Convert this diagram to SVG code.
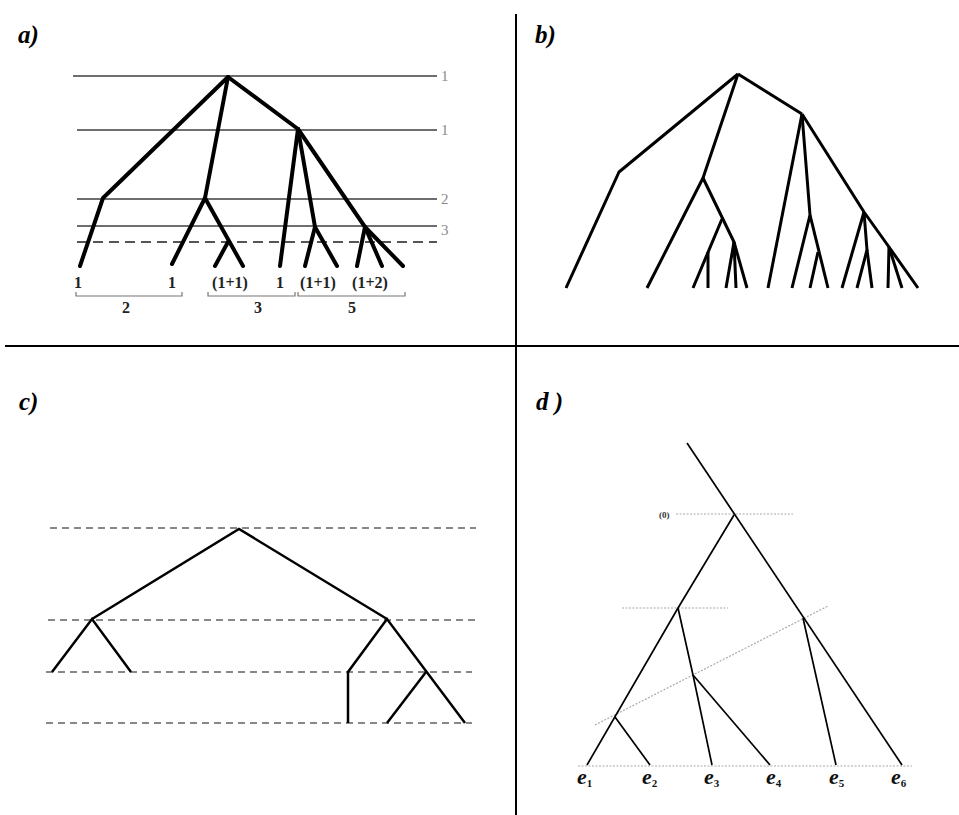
<svg xmlns="http://www.w3.org/2000/svg" width="959" height="815" viewBox="0 0 959 815">
<style>
.bg{fill:#fff}
.div{stroke:#000;stroke-width:2;fill:none}
.lbl{font-family:"Liberation Serif",serif;font-weight:bold;font-style:italic;font-size:25px;fill:#000}
.ta{stroke:#000;stroke-width:4;fill:none;stroke-linecap:round;stroke-linejoin:round}
.tb{stroke:#000;stroke-width:3;fill:none;stroke-linejoin:round}
.tc{stroke:#000;stroke-width:2.5;fill:none;stroke-linejoin:miter}
.td{stroke:#000;stroke-width:1.7;fill:none}
.ha{stroke:#6e6e6e;stroke-width:2;fill:none}
.hda{stroke:#555;stroke-width:2;fill:none;stroke-dasharray:10 6}
.glab{font-family:"Liberation Serif",serif;font-size:15px;fill:#8a8a8a}
.num{font-family:"Liberation Serif",serif;font-weight:bold;font-size:16px;fill:#222;text-anchor:middle}
.brk{stroke:#777;stroke-width:1.2;fill:none}
.hc{stroke:#888;stroke-width:2;fill:none;stroke-dasharray:7 5}
.dot{stroke:#aaa;stroke-width:1.2;fill:none;stroke-dasharray:2 1.5}
.e{font-family:"Liberation Serif",serif;font-weight:bold;font-style:italic;font-size:22px;fill:#111}
.sub{font-style:normal;font-size:11px}
.zero{font-family:"Liberation Serif",serif;font-weight:bold;font-size:9px;fill:#333}
</style>
<rect class="bg" x="0" y="0" width="959" height="815"/>
<g id="dividers">
<line class="div" x1="516" y1="14" x2="516" y2="815"/>
<line class="div" x1="5" y1="346" x2="959" y2="346"/>
</g>
<g id="panel-labels">
<text class="lbl" x="18" y="43">a)</text>
<text class="lbl" x="535" y="43">b)</text>
<text class="lbl" x="19" y="410">c)</text>
<text class="lbl" x="536" y="410">d )</text>
</g>
<g id="panel-a">
<g id="a-levels">
<line class="ha" x1="73" y1="76" x2="437" y2="76"/>
<line class="ha" x1="77" y1="130" x2="437" y2="130"/>
<line class="ha" x1="77" y1="199" x2="437" y2="199"/>
<line class="ha" x1="77" y1="226" x2="437" y2="226"/>
<line class="hda" x1="77" y1="242" x2="437" y2="242"/>
<text class="glab" x="441" y="81">1</text>
<text class="glab" x="441" y="135">1</text>
<text class="glab" x="441" y="204">2</text>
<text class="glab" x="441" y="235">3</text>
</g>
<g id="a-tree">
<polyline class="ta" points="228,77 103,198 80,266"/>
<polyline class="ta" points="228,77 205,198 172,264"/>
<polyline class="ta" points="205,198 243,266"/>
<polyline class="ta" points="228,242 215,266"/>
<polyline class="ta" points="228,77 298,129"/>
<polyline class="ta" points="298,129 280,266"/>
<polyline class="ta" points="298,129 315,227 305,266"/>
<polyline class="ta" points="315,227 337,266"/>
<polyline class="ta" points="298,129 365,227 403,266"/>
<polyline class="ta" points="365,227 357,266"/>
<polyline class="ta" points="365,227 382,266"/>
</g>
<g id="a-counts">
<text class="num" x="78" y="288">1</text>
<text class="num" x="172" y="288">1</text>
<text class="num" x="230" y="288">(1+1)</text>
<text class="num" x="280" y="288">1</text>
<text class="num" x="318" y="288">(1+1)</text>
<text class="num" x="370" y="288">(1+2)</text>
<polyline class="brk" points="76,292 76,296 182,296 182,292"/>
<polyline class="brk" points="208,292 208,296 295,296 295,292"/>
<polyline class="brk" points="298,292 298,296 405,296 405,292"/>
<text class="num" x="126" y="313">2</text>
<text class="num" x="258" y="313">3</text>
<text class="num" x="352" y="313">5</text>
</g>
</g>
<g id="panel-b">
<polyline class="tb" points="738,74 619,172 566,288"/>
<polyline class="tb" points="738,74 703,178 647,288"/>
<polyline class="tb" points="703,178 734,242 747,288"/>
<polyline class="tb" points="722,219 693,288"/>
<polyline class="tb" points="708,252 708,288"/>
<polyline class="tb" points="734,242 726,288"/>
<polyline class="tb" points="734,242 736,288"/>
<polyline class="tb" points="738,74 802,114"/>
<polyline class="tb" points="802,114 768,288"/>
<polyline class="tb" points="802,114 810,215 792,288"/>
<polyline class="tb" points="810,215 828,288"/>
<polyline class="tb" points="818,252 810,288"/>
<polyline class="tb" points="802,114 864,212 889,247 918,288"/>
<polyline class="tb" points="864,212 842,288"/>
<polyline class="tb" points="864,212 867,250 857,288"/>
<polyline class="tb" points="867,250 872,288"/>
<polyline class="tb" points="889,247 888,288"/>
<polyline class="tb" points="889,247 902,288"/>
</g>
<g id="panel-c">
<g id="c-levels">
<line class="hc" x1="50" y1="528" x2="476" y2="528"/>
<line class="hc" x1="48" y1="620" x2="476" y2="620"/>
<line class="hc" x1="46" y1="672" x2="472" y2="672"/>
<line class="hc" x1="46" y1="723" x2="472" y2="723"/>
</g>
<g id="c-tree">
<polyline class="tc" points="92,619 239,529 387,619"/>
<polyline class="tc" points="52,672 92,619 131,672"/>
<polyline class="tc" points="348,723 348,672 387,619 465,723"/>
<polyline class="tc" points="387,723 426,672"/>
</g>
</g>
<g id="panel-d">
<g id="d-guides">
<line class="dot" x1="676" y1="514" x2="793" y2="514"/>
<line class="dot" x1="622" y1="608" x2="728" y2="608"/>
<line class="dot" x1="595" y1="725" x2="828" y2="606"/>
<line class="dot" x1="578" y1="766" x2="912" y2="766"/>
<text class="zero" x="659" y="518">(0)</text>
</g>
<g id="d-tree">
<line class="td" x1="687" y1="443" x2="902" y2="765"/>
<polyline class="td" points="734,515 678,608 587,765"/>
<polyline class="td" points="678,608 693,675 712,765"/>
<line class="td" x1="693" y1="675" x2="770" y2="765"/>
<line class="td" x1="615" y1="717" x2="650" y2="765"/>
<line class="td" x1="803" y1="618" x2="836" y2="765"/>
</g>
<g id="d-leaves">
<text class="e" x="577" y="784">e<tspan class="sub" dy="3">1</tspan></text>
<text class="e" x="642" y="784">e<tspan class="sub" dy="3">2</tspan></text>
<text class="e" x="704" y="784">e<tspan class="sub" dy="3">3</tspan></text>
<text class="e" x="766" y="784">e<tspan class="sub" dy="3">4</tspan></text>
<text class="e" x="829" y="784">e<tspan class="sub" dy="3">5</tspan></text>
<text class="e" x="891" y="784">e<tspan class="sub" dy="3">6</tspan></text>
</g>
</g>
</svg>
